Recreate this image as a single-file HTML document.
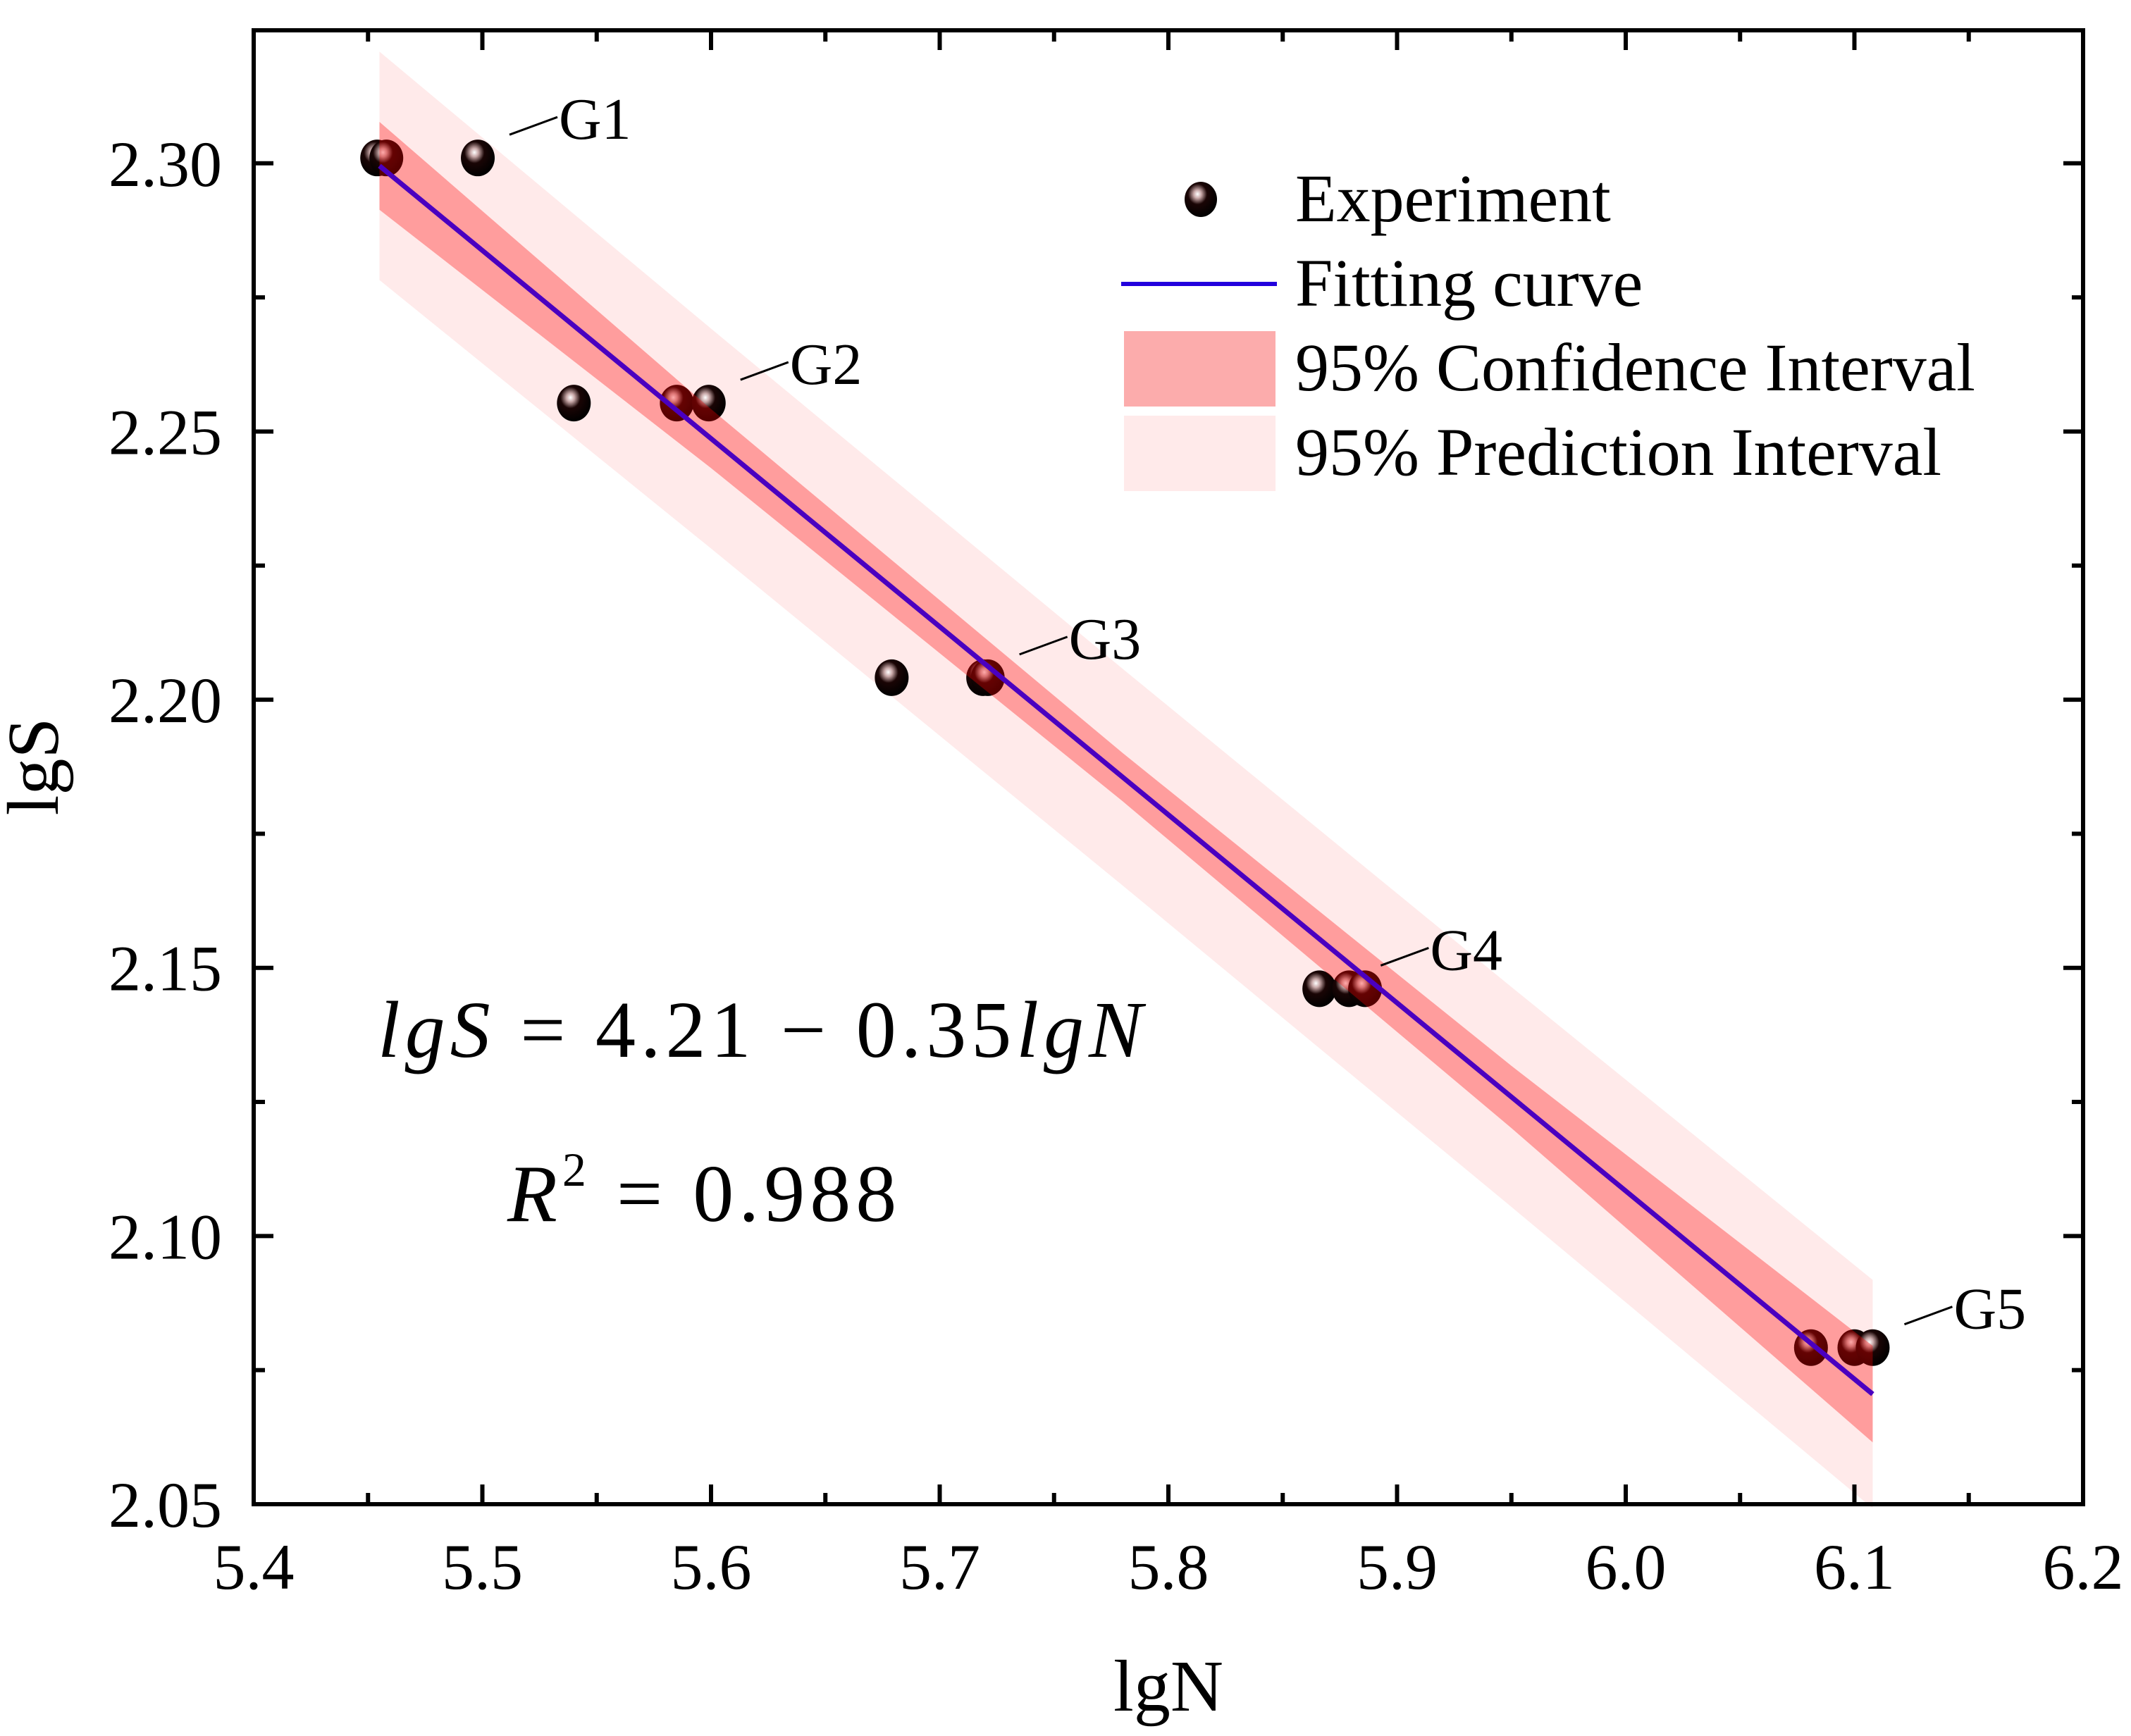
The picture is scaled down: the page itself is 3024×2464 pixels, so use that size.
<!DOCTYPE html>
<html><head><meta charset="utf-8"><style>
html,body{margin:0;padding:0;background:#fff}
svg{display:block}
svg text{font-family:"Liberation Serif","DejaVu Serif",serif}
</style></head><body>
<svg id="chart" width="3024" height="2464" viewBox="0 0 3024 2464" xmlns="http://www.w3.org/2000/svg" font-family="Liberation Serif, serif">
<defs>
<radialGradient id="ball" cx="0.4" cy="0.35" r="0.65">
<stop offset="0" stop-color="#ffffff"/>
<stop offset="0.18" stop-color="#c9a9a9"/>
<stop offset="0.45" stop-color="#1a0505"/>
<stop offset="1" stop-color="#000"/>
</radialGradient>
</defs>
<g id="pi-layer"></g>
<g id="pts-layer"></g>
<g id="ci-layer"></g>
<g id="fit-layer"></g>
<g id="axes-layer"></g>
<g id="labels-layer"></g>
<g>
<ellipse cx="1704" cy="283" rx="23" ry="25" fill="url(#ball)"/>
<text x="1838" y="314" font-size="96">Experiment</text>
<line x1="1591" y1="403" x2="1812" y2="403" stroke="#2200dd" stroke-width="6"/>
<text x="1838" y="434" font-size="96">Fitting curve</text>
<rect x="1595" y="470" width="215" height="107" fill="#fcacac"/>
<text x="1838" y="554" font-size="96">95% Confidence Interval</text>
<rect x="1595" y="590" width="215" height="107" fill="#ffeaea"/>
<text x="1838" y="674" font-size="96">95% Prediction Interval</text>
</g>
<text x="536" y="1500" font-size="114" font-style="italic" letter-spacing="7">lgS <tspan font-style="normal">= 4.21 − 0.35</tspan>lgN</text>
<text x="720" y="1733" font-size="116" letter-spacing="7"><tspan font-style="italic">R</tspan><tspan font-size="68" dy="-50">2</tspan><tspan dy="50"> = 0.988</tspan></text>
<text x="1658" y="2428" font-size="104" text-anchor="middle">lgN</text>
<text transform="translate(82,1088) rotate(-90)" font-size="104" text-anchor="middle">lgS</text>
</svg>
<script>
const xTicks = [5.4, 5.5, 5.6, 5.7, 5.8, 5.9, 6.0, 6.1, 6.2];
const xTickLabels = ["5.4","5.5","5.6","5.7","5.8","5.9","6.0","6.1","6.2"];
const yTicks = [2.05, 2.10, 2.15, 2.20, 2.25, 2.30];
const yTickLabels = ["2.05","2.10","2.15","2.20","2.25","2.30"];
const ptX = [5.454, 5.458, 5.498, 5.540, 5.585, 5.599, 5.679, 5.719, 5.721, 5.866, 5.879, 5.886, 6.081, 6.100, 6.108];
const ptY = [2.301, 2.301, 2.301, 2.2553, 2.2553, 2.2553, 2.2041, 2.2041, 2.2041, 2.1461, 2.1461, 2.1461, 2.0792, 2.0792, 2.0792];
const fitIntercept = 4.2126;
const fitSlope = -0.3507;
const bandX = [5.455, 5.6, 5.78, 5.95, 6.108];
const ciHalf = [0.0082, 0.0055, 0.0045, 0.0058, 0.0090];
const piHalf = [0.0213, 0.0205, 0.0202, 0.0205, 0.0213];
const groupNames = ["G1","G2","G3","G4","G5"];
const groupAnchorX = [5.498, 5.599, 5.721, 5.879, 6.108];
const groupAnchorY = [2.301, 2.2553, 2.2041, 2.1461, 2.0792];

const L=360, R=2956, T=43, B=2135;
const X0=5.4, X1=6.2, Y0=2.05, Y1=2.3248;
const sx = v => L + (v-X0)/(X1-X0)*(R-L);
const sy = v => B - (v-Y0)/(Y1-Y0)*(B-T);
const NS="http://www.w3.org/2000/svg";
function mk(tag, attrs, parent){const e=document.createElementNS(NS,tag);for(const k in attrs)e.setAttribute(k,attrs[k]);parent.appendChild(e);return e;}
const fit = x => fitIntercept + fitSlope*x;

function band(halves, layer, fill, name){
  let up=[], dn=[];
  for(let i=0;i<bandX.length;i++){up.push(sx(bandX[i])+","+sy(fit(bandX[i])+halves[i]));dn.unshift(sx(bandX[i])+","+sy(fit(bandX[i])-halves[i]));}
  const p=mk("polygon",{points:up.concat(dn).join(" "),fill:fill},document.getElementById(layer));
  
  
}
band(piHalf,"pi-layer","#ffeaea","prediction-band");
band(ciHalf,"ci-layer","rgba(255,0,0,0.33)","confidence-band");

const pl=document.getElementById("pts-layer");
for(let i=0;i<ptX.length;i++){
  const c=mk("ellipse",{cx:sx(ptX[i]),cy:sy(ptY[i]),rx:24,ry:26,fill:"url(#ball)"},pl);
  
  
}
const fl=mk("line",{x1:sx(bandX[0]),y1:sy(fit(bandX[0])),x2:sx(bandX[bandX.length-1]),y2:sy(fit(bandX[bandX.length-1])),stroke:"#4a00c0","stroke-width":7},document.getElementById("fit-layer"));



const ax=document.getElementById("axes-layer");
const fr=mk("rect",{x:L,y:T,width:R-L,height:B-T,fill:"none",stroke:"#000","stroke-width":6},ax);


for(let i=0;i<xTicks.length;i++){
  const x=sx(xTicks[i]);
  mk("line",{x1:x,y1:B,x2:x,y2:B-28,stroke:"#000","stroke-width":6},ax);
  mk("line",{x1:x,y1:T,x2:x,y2:T+28,stroke:"#000","stroke-width":6},ax);
  if(i<xTicks.length-1){const m=sx((xTicks[i]+xTicks[i+1])/2);
    mk("line",{x1:m,y1:B,x2:m,y2:B-16,stroke:"#000","stroke-width":6},ax);
    mk("line",{x1:m,y1:T,x2:m,y2:T+16,stroke:"#000","stroke-width":6},ax);}
  const t=mk("text",{x:x,y:B+120,"font-size":92,"text-anchor":"middle"},ax);t.textContent=xTickLabels[i];
  
  
}
for(let i=0;i<yTicks.length;i++){
  const y=sy(yTicks[i]);
  mk("line",{x1:L,y1:y,x2:L+28,y2:y,stroke:"#000","stroke-width":6},ax);
  mk("line",{x1:R,y1:y,x2:R-28,y2:y,stroke:"#000","stroke-width":6},ax);
  const m=sy(yTicks[i]+0.025);
  if(m>T){mk("line",{x1:L,y1:m,x2:L+16,y2:m,stroke:"#000","stroke-width":6},ax);
    mk("line",{x1:R,y1:m,x2:R-16,y2:m,stroke:"#000","stroke-width":6},ax);}
  const t=mk("text",{x:L-45,y:y+32,"font-size":92,"text-anchor":"end"},ax);t.textContent=yTickLabels[i];
  
  
}
const lab=document.getElementById("labels-layer");
for(let i=0;i<groupNames.length;i++){
  const x=sx(groupAnchorX[i]), y=sy(groupAnchorY[i]);
  mk("line",{x1:x+45,y1:y-33,x2:x+113,y2:y-58,stroke:"#000","stroke-width":3},lab);
  const t=mk("text",{x:x+115,y:y-27,"font-size":84},lab);t.textContent=groupNames[i];
  
  
}
</script>
</body></html>
